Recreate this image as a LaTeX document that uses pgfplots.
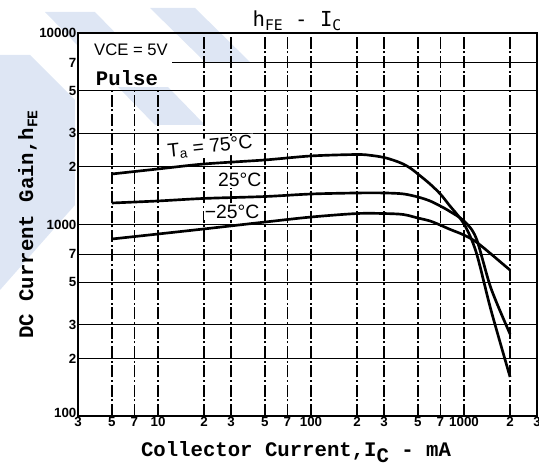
\documentclass[border=0pt]{standalone}
\usepackage{fontspec}
\setmainfont{Liberation Mono}
\newfontfamily\sansf{Liberation Sans}
\newfontfamily\titlef{DejaVu Sans Mono}
\usepackage{pgfplots}
\usepackage{pgfplotstable}
\pgfplotsset{compat=1.18}

% hFE vs IC
\pgfplotstableread{
ic    hfe
5     1836
10    1950
20    2070
50    2173
100   2280
200   2320
250   2292
300   2239
350   2159
400   2070
450   1960
500   1835
600   1627
700   1443
800   1264
1000  1006
1200  718
1500  358
2000  160
}\tHot
\pgfplotstableread{
ic    hfe
5     1295
10    1327
20    1368
50    1400
100   1443
200   1461
300   1461
400   1445
500   1392
600   1327
700   1249
800   1176
1000  1043
1200  850
1500  465
2000  268
}\tRoom
\pgfplotstableread{
ic    hfe
5     840
10    892
20    948
50    1030
100   1094
200   1141
300   1141
400   1128
500   1081
600   1043
700   993
800   947
1000  881
1200  811
1500  702
1700  645
2000  578
}\tCold

\definecolor{wmark}{RGB}{222,230,244}

\begin{document}
\begin{tikzpicture}
\useasboundingbox (-58.5pt,-39pt) rectangle (345.75pt,312pt);
% faint watermark of the scan
\begin{scope}[x=0.75pt,y=-0.75pt,shift={(-58.5pt,312pt)}]
  \fill[wmark] (0,55) -- (30,55) -- (75,100) -- (75,205) -- (0,290) -- cycle;
  \fill[wmark] (45,12) -- (95,12) -- (205,125) -- (155,125) -- cycle;
  \fill[wmark] (150,8) -- (195,8) -- (250,62) -- (205,62) -- cycle;
\end{scope}
\begin{axis}[
  at={(0,0)}, anchor=south west,
  scale only axis, width=344.25pt, height=287.25pt,
  xmode=log, ymode=log,
  xmin=3, xmax=3000, ymin=100, ymax=10000,
  xtick={3,5,7,10,20,30,50,70,100,200,300,500,700,1000,2000,3000},
  xticklabels={3,5,7,\raisebox{-4pt}{10},2,3,5,7,\raisebox{-3pt}{100},2,3,5,7,\raisebox{-3pt}{1000},2,3},
  ytick={100,200,300,500,700,1000,2000,3000,5000,7000,10000},
  yticklabels={\raisebox{4pt}{100},2,3,5,7,1000,2,3,5,7,10000},
  minor xtick={}, minor ytick={},
  major tick length=0pt,
  grid=major,
  x grid style={black, line width=0.9pt, dash pattern=on 9pt off 2pt on 1.5pt off 2pt},
  y grid style={black, line width=0.9pt},
  axis line style={black, line width=1.3pt},
  tick label style={font=\sansf\bfseries\fontsize{10}{10}\selectfont, inner sep=1pt},
  clip=false,
]
% blank corner behind the conditions
\fill[white] ([xshift=0.8pt,yshift=-0.8pt]rel axis cs:0,1) rectangle (axis cs:12.3,5200);

\addplot[black, line width=2pt, smooth] table {\tHot};
\addplot[black, line width=2pt, smooth] table {\tRoom};
\addplot[black, line width=2pt, smooth] table {\tCold};

\node[font=\sansf\fontsize{12.5}{12.5}\selectfont] at (axis cs:6.66,8150) {VCE = 5V};
\node[font=\bfseries\fontsize{15.5}{15.5}\selectfont] at (axis cs:6.27,5821) {Pulse};

\node[fill=white, inner sep=1pt, rotate=6, font=\sansf\fontsize{14.5}{14.5}\selectfont] at (axis cs:21.9,2520) {T\textsubscript{a} = 75°C};
\node[fill=white, inner sep=1pt, font=\sansf\fontsize{14.5}{14.5}\selectfont] at (axis cs:34.2,1706) {25°C};
\node[fill=white, inner sep=1pt, font=\sansf\fontsize{14.5}{14.5}\selectfont] at (axis cs:30.5,1165) {−25°C};

\node[anchor=base, font=\titlef\fontsize{15.5}{15.5}\selectfont] at (rel axis cs:0.477,1.0157) {h\raisebox{-0.3ex}{\fontsize{11}{11}\selectfont FE} - I\raisebox{-0.3ex}{\fontsize{11}{11}\selectfont C}};
\node[anchor=base, font=\bfseries\fontsize{15.5}{15.5}\selectfont] at (rel axis cs:0.475,-0.107) {Collector Current,I\raisebox{-0.5ex}{C} - mA};
\node[anchor=base, rotate=90, font=\bfseries\fontsize{15.5}{15.5}\selectfont] at (rel axis cs:-0.098,0.50) {DC Current Gain,h\raisebox{-0.4ex}{\fontsize{11}{11}\selectfont FE}};
\end{axis}
\end{tikzpicture}
\end{document}
